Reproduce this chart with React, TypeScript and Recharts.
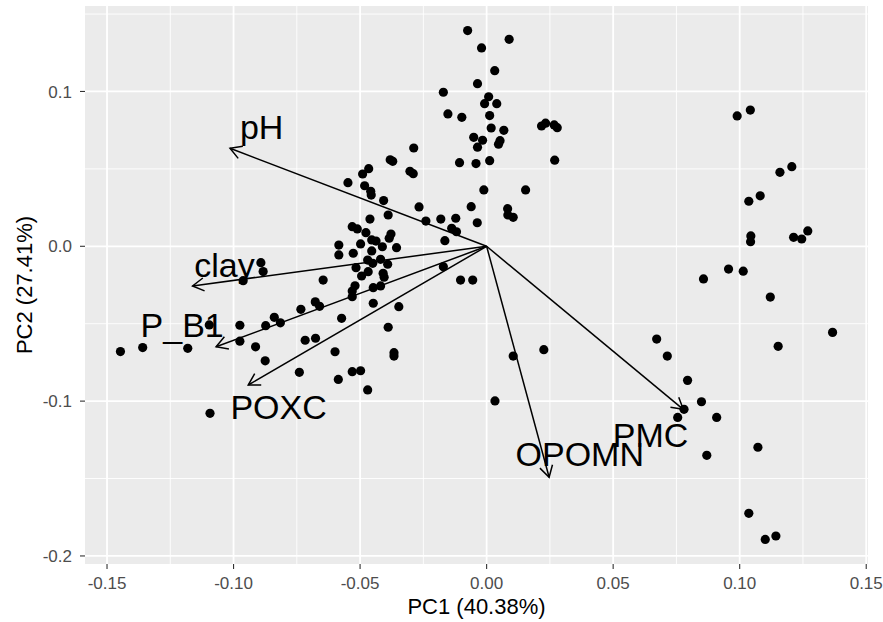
import {
  CartesianGrid,
  ReferenceLine,
  Scatter,
  ScatterChart,
  XAxis,
  YAxis,
} from "recharts";

// sample scores on the first two principal components
const PC1_SCORES = [
  -0.0075, 0.0089, -0.002, 0.0032, -0.0036, -0.0171, 0.0008, -0.0008, 0.004, -0.0153,
  -0.0098, 0.0012, 0.0018, 0.0068, 0.0217, 0.0233, 0.0267, 0.0279, -0.0051, -0.0016,
  -0.0036, 0.0053, 0.0047, -0.0288, -0.0381, -0.0371, -0.0107, -0.0042, 0.0012, 0.0269,
  -0.0466, -0.049, -0.0303, -0.029, -0.0548, -0.0482, -0.0458, -0.0456, -0.0011, 0.0154,
  -0.0407, -0.0267, -0.0061, 0.0083, -0.0389, -0.0461, -0.024, -0.0181, -0.0122, -0.0037,
  0.0084, 0.0105, -0.0138, -0.0119, -0.0165, -0.0531, -0.0511, -0.0477, -0.0378, -0.0385,
  -0.0454, -0.0437, -0.0498, -0.0584, -0.0412, -0.0356, -0.0454, -0.0527, -0.0584, -0.047,
  -0.045, -0.0419, -0.0391, -0.0516, -0.0468, -0.0494, -0.0409, -0.0405, -0.0646, -0.052,
  -0.0531, -0.0531, -0.0448, -0.0419, -0.0448, -0.0347, -0.0171, -0.0103, -0.0055, -0.0734,
  -0.0677, -0.066, -0.0815, -0.0839, -0.0573, -0.0389, -0.0717, -0.0676, -0.0599, -0.0366,
  -0.0366, 0.0105, 0.0226, -0.074, -0.0586, -0.0531, -0.0498, -0.047, 0.0033, -0.0892,
  -0.0883, -0.0962, -0.1096, -0.0975, -0.0873, -0.0975, -0.0913, -0.0875, -0.1181, -0.1359,
  -0.1447, -0.1093, 0.099, 0.1042, 0.1159, 0.1206, 0.1036, 0.1081, 0.1044, 0.1043,
  0.1213, 0.1245, 0.1269, 0.0956, 0.1014, 0.0857, 0.1121, 0.1367, 0.0672, 0.0714,
  0.1152, 0.0794, 0.0849, 0.078, 0.0755, 0.0909, 0.1072, 0.087, 0.1036, 0.1101,
  0.1143,
];

const PC2_SCORES = [
  0.1393, 0.1337, 0.1281, 0.1134, 0.105, 0.0995, 0.0966, 0.0921, 0.0921, 0.0855,
  0.0833, 0.0844, 0.0764, 0.0749, 0.0777, 0.0795, 0.0784, 0.0766, 0.0704, 0.0685,
  0.064, 0.0682, 0.0659, 0.0635, 0.0559, 0.0549, 0.054, 0.0534, 0.0553, 0.0556,
  0.0501, 0.0467, 0.0484, 0.0469, 0.0411, 0.0391, 0.0355, 0.0331, 0.0364, 0.0364,
  0.0295, 0.0254, 0.0256, 0.0243, 0.0202, 0.0176, 0.0163, 0.0176, 0.0181, 0.0152,
  0.0202, 0.0187, 0.0116, 0.0094, 0.0036, 0.0127, 0.0112, 0.0088, 0.0079, 0.0052,
  0.0041, 0.0034, 0.0015, 0.0008, -0.0003, -0.0009, -0.003, -0.0045, -0.0056, -0.0089,
  -0.011, -0.0084, -0.0116, -0.0138, -0.0164, -0.0192, -0.0174, -0.02, -0.0218, -0.0255,
  -0.0289, -0.0326, -0.0267, -0.0256, -0.0368, -0.039, -0.0132, -0.0218, -0.0218, -0.0407,
  -0.0359, -0.0388, -0.0494, -0.0459, -0.0465, -0.0523, -0.0607, -0.0594, -0.0681, -0.0687,
  -0.0709, -0.0709, -0.0668, -0.0814, -0.086, -0.081, -0.0804, -0.0928, -0.0999, -0.0106,
  -0.0163, -0.0222, -0.0508, -0.051, -0.0513, -0.0613, -0.0649, -0.074, -0.0659, -0.0654,
  -0.068, -0.1079, 0.0842, 0.088, 0.0478, 0.0514, 0.0291, 0.0326, 0.0067, 0.003,
  0.0058, 0.0047, 0.0099, -0.0147, -0.0161, -0.0211, -0.0328, -0.0556, -0.0599, -0.0709,
  -0.0646, -0.0866, -0.1004, -0.1053, -0.1105, -0.1105, -0.1298, -0.135, -0.1725, -0.1893,
  -0.1871,
];

// variable loadings (arrow tips) and where their names are written
const VARIABLES = ["pH", "clay", "P_B1", "POXC", "OPOMN", "PMC"];
const LOADING_PC1 = [-0.1014, -0.1162, -0.1069, -0.0942, 0.0247, 0.0777];
const LOADING_PC2 = [0.0633, -0.0256, -0.0649, -0.0896, -0.1492, -0.1053];
const LABEL_PC1 = [-0.0889, -0.1036, -0.1203, -0.0822, 0.0368, 0.0648];
const LABEL_PC2 = [0.0691, -0.02, -0.0584, -0.1118, -0.1419, -0.1295];

const X_TICKS = [-0.15, -0.1, -0.05, 0, 0.05, 0.1, 0.15];
const Y_TICKS = [-0.2, -0.1, 0, 0.1];
const X_MINOR = [-0.125, -0.075, -0.025, 0.025, 0.075, 0.125];
const Y_MINOR = [-0.15, -0.05, 0.05, 0.15];
const X_DOMAIN: [number, number] = [-0.1587, 0.1507];
const Y_DOMAIN: [number, number] = [-0.2052, 0.1552];

const FONT = '"Liberation Sans", Arial, Helvetica, sans-serif';

const scores = PC1_SCORES.map((x, i) => ({ x, y: PC2_SCORES[i] }));
const labels = VARIABLES.map((name, i) => ({ name, x: LABEL_PC1[i], y: LABEL_PC2[i] }));

function Dot(props: any) {
  return <circle cx={props.cx} cy={props.cy} r={4.6} fill="#000" />;
}

function VarLabel(props: any) {
  return (
    <text x={props.cx} y={props.cy} textAnchor="middle" fontSize={34} fontFamily={FONT} fill="#000">
      {props.payload.name}
    </text>
  );
}

// segment from origin with an open arrowhead at the loading
function Arrow(props: any) {
  const { x1, y1, x2, y2 } = props;
  const ang = Math.atan2(y2 - y1, x2 - x1);
  const len = 13;
  const spread = Math.PI / 6;
  const ax = x2 + len * Math.cos(ang + Math.PI - spread);
  const ay = y2 + len * Math.sin(ang + Math.PI - spread);
  const bx = x2 + len * Math.cos(ang + Math.PI + spread);
  const by = y2 + len * Math.sin(ang + Math.PI + spread);
  return (
    <g>
      <line x1={x1} y1={y1} x2={x2} y2={y2} stroke="#000" strokeWidth={1.5} />
      <polyline
        points={`${ax},${ay} ${x2},${y2} ${bx},${by}`}
        fill="none"
        stroke="#000"
        strokeWidth={1.5}
      />
    </g>
  );
}

function YTitle(props: any) {
  const vb = props.viewBox;
  const cx = vb.x + 24;
  const cy = vb.y + vb.height / 2;
  return (
    <text
      x={cx}
      y={cy}
      transform={`rotate(-90 ${cx} ${cy})`}
      textAnchor="middle"
      fontSize={22}
      fontFamily={FONT}
      fill="#000"
    >
      PC2 (27.41%)
    </text>
  );
}

const tickStyle = { fill: "#4D4D4D", fontSize: 17, fontFamily: FONT };
const tickLine = { stroke: "#333333", strokeWidth: 1.1 };

export default function App() {
  return (
    <div style={{ position: "fixed", left: 0, top: 0, background: "#fff" }}>
      <ScatterChart
        width={883}
        height={622}
        margin={{ top: 6, right: 15, bottom: 0, left: 8 }}
      >
        <CartesianGrid
          fill="#EBEBEB"
          stroke="#FFFFFF"
          strokeWidth={0.9}
          horizontalValues={Y_MINOR}
          verticalValues={X_MINOR}
        />
        <CartesianGrid
          stroke="#FFFFFF"
          strokeWidth={1.8}
          horizontalValues={Y_TICKS}
          verticalValues={X_TICKS}
        />
        <XAxis
          type="number"
          dataKey="x"
          domain={X_DOMAIN}
          ticks={X_TICKS}
          allowDataOverflow
          height={58}
          axisLine={false}
          tickLine={tickLine}
          tickSize={5}
          tickMargin={8}
          tick={tickStyle}
          tickFormatter={(v: number) => v.toFixed(2)}
          label={{
            value: "PC1 (40.38%)",
            position: "insideBottom",
            offset: 8.5,
            fill: "#000",
            fontSize: 22,
            fontFamily: FONT,
          }}
        />
        <YAxis
          type="number"
          dataKey="y"
          domain={Y_DOMAIN}
          ticks={Y_TICKS}
          allowDataOverflow
          width={77}
          axisLine={false}
          tickLine={tickLine}
          tickSize={5}
          tickMargin={8}
          tick={tickStyle}
          tickFormatter={(v: number) => v.toFixed(1)}
          label={{ value: "PC2 (27.41%)", content: YTitle }}
        />
        <Scatter data={scores} shape={Dot} isAnimationActive={false} />
        {VARIABLES.map((name, i) => (
          <ReferenceLine
            key={name}
            segment={[
              { x: 0, y: 0 },
              { x: LOADING_PC1[i], y: LOADING_PC2[i] },
            ]}
            shape={Arrow}
          />
        ))}
        <Scatter data={labels} shape={VarLabel} isAnimationActive={false} />
      </ScatterChart>
    </div>
  );
}
